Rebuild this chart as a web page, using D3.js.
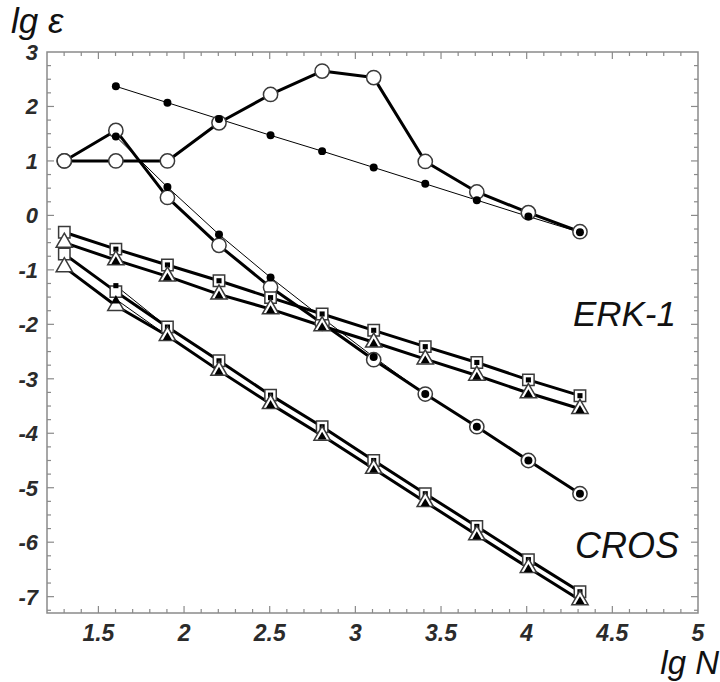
<!DOCTYPE html>
<html>
<head>
<meta charset="utf-8">
<script src="https://cdn.jsdelivr.net/npm/d3@7"></script>
<style>
  body { margin: 0; background: #fff; }
  .tick-label { font-family: "Liberation Sans", Arial, sans-serif; font-weight: bold; font-style: italic; fill: #2b2b2b; }
  .title { font-family: "Liberation Sans", Arial, sans-serif; font-style: italic; fill: #111; }
</style>
</head>
<body>
<div id="chart"></div>
<script>
// lg N values (N = 20, 40, ... 20480)
var lgN = [1.301, 1.602, 1.903, 2.204, 2.505, 2.806, 3.107, 3.408, 3.709, 4.010, 4.311];

/* circle family */
var circOpenA   = [1.0, 1.0, 1.0, 1.70, 2.22, 2.65, 2.53, 0.99, 0.43, 0.05, -0.30];
var circFilledA = [null, 2.37, 2.07, 1.77, 1.47, 1.18, 0.88, 0.58, 0.28, -0.02, -0.31];
var circOpenB   = [1.0, 1.56, 0.33, -0.55, -1.32, -1.98, -2.65, -3.28, -3.88, -4.50, -5.11];
var circFilledB = [null, 1.45, 0.52, -0.35, -1.14, -1.88, -2.60, -3.28, -3.88, -4.50, -5.11];

/* ERK-1 */
var erkSqOpen   = [-0.31, -0.62, -0.91, -1.20, -1.51, -1.81, -2.11, -2.41, -2.70, -3.02, -3.31];
var erkSqFilled = [null, -0.62, -0.91, -1.20, -1.51, -1.81, -2.11, -2.41, -2.70, -3.02, -3.31];
var erkTrOpen   = [-0.50, -0.82, -1.12, -1.45, -1.72, -2.03, -2.33, -2.64, -2.94, -3.26, -3.55];
var erkTrFilled = [null, -0.82, -1.12, -1.45, -1.72, -2.03, -2.33, -2.64, -2.94, -3.26, -3.55];

/* CROS */
var crosSqOpen   = [-0.71, -1.40, -2.05, -2.67, -3.30, -3.88, -4.50, -5.11, -5.71, -6.32, -6.91];
var crosSqFilled = [null, -1.29, -2.05, -2.67, -3.30, -3.88, -4.50, -5.11, -5.71, -6.32, -6.91];
var crosTrOpen   = [-0.95, -1.66, -2.21, -2.85, -3.46, -4.04, -4.65, -5.26, -5.87, -6.47, -7.06];
var crosTrFilled = [null, -1.54, -2.21, -2.85, -3.46, -4.04, -4.65, -5.26, -5.87, -6.47, -7.06];

var xTicks = [1.5, 2, 2.5, 3, 3.5, 4, 4.5, 5];
var yTicks = [3, 2, 1, 0, -1, -2, -3, -4, -5, -6, -7];

var W = 720, H = 682;
var mLeft = 47, mRight = 698, mTop = 52, mBottom = 613;

var x = d3.scaleLinear().domain([1.2, 5]).range([mLeft, mRight]);
var y = d3.scaleLinear().domain([-7.3, 3]).range([mBottom, mTop]);

var svg = d3.select("#chart").append("svg")
  .attr("width", W).attr("height", H);

/* 프레임 */
svg.append("rect")
  .attr("x", mLeft).attr("y", mTop)
  .attr("width", mRight - mLeft).attr("height", mBottom - mTop)
  .attr("fill", "none").attr("stroke", "#8a8a8a").attr("stroke-width", 1.5);

// minor + major ticks on all four sides, pointing inward
var xMinor = d3.range(12, 51).map(function(d){ return d / 10; });
var yMinor = d3.range(-29, 13).map(function(d){ return d / 4; });
var tickG = svg.append("g").attr("stroke", "#8a8a8a").attr("stroke-width", 1.2);

xMinor.forEach(function(v){
  var major = Math.abs(v * 2 - Math.round(v * 2)) < 1e-6;
  var len = major ? 7 : 4;
  var px = x(v);
  if (px <= mLeft + 0.5 || px >= mRight - 0.5) return;
  tickG.append("line").attr("x1", px).attr("x2", px).attr("y1", mBottom).attr("y2", mBottom - len);
  tickG.append("line").attr("x1", px).attr("x2", px).attr("y1", mTop).attr("y2", mTop + len);
});
yMinor.forEach(function(v){
  var major = Math.abs(v - Math.round(v)) < 1e-6;
  var len = major ? 7 : 4;
  var py = y(v);
  if (py <= mTop + 0.5 || py >= mBottom - 0.5) return;
  tickG.append("line").attr("y1", py).attr("y2", py).attr("x1", mLeft).attr("x2", mLeft + len);
  tickG.append("line").attr("y1", py).attr("y2", py).attr("x1", mRight).attr("x2", mRight - len);
});

/* 눈금 라벨 */
svg.selectAll(".xl").data(xTicks).enter().append("text")
  .attr("class", "tick-label")
  .attr("x", function(d){ return x(d); })
  .attr("y", 641)
  .attr("text-anchor", "middle")
  .style("font-size", "23px")
  .text(function(d){ return d; });

svg.selectAll(".yl").data(yTicks).enter().append("text")
  .attr("class", "tick-label")
  .attr("x", 38)
  .attr("y", function(d){ return y(d) + 8; })
  .attr("text-anchor", "end")
  .style("font-size", "22px")
  .text(function(d){ return d; });

svg.append("text").attr("class", "title").attr("x", 11).attr("y", 33)
  .style("font-size", "35px").text("lg ε");
svg.append("text").attr("class", "title").attr("x", 719).attr("y", 674)
  .attr("text-anchor", "end").style("font-size", "33px").text("lg N");
svg.append("text").attr("class", "title").attr("x", 676).attr("y", 326)
  .attr("text-anchor", "end").style("font-size", "35px").text("ERK-1");
svg.append("text").attr("class", "title").attr("x", 679).attr("y", 558)
  .attr("text-anchor", "end").style("font-size", "36px").text("CROS");

/* 선 그리기 */
function pts(vals){
  var out = [];
  vals.forEach(function(v, i){ if (v !== null) out.push({ x: lgN[i], y: v }); });
  return out;
}
var line = d3.line().x(function(d){ return x(d.x); }).y(function(d){ return y(d.y); });

var openSeries   = [circOpenA, circOpenB, erkSqOpen, erkTrOpen, crosSqOpen, crosTrOpen];
var filledSeries = [circFilledA, circFilledB, erkSqFilled, erkTrFilled, crosSqFilled, crosTrFilled];
var shapes = ["circle", "circle", "square", "triangle", "square", "triangle"];

openSeries.forEach(function(s){
  svg.append("path").attr("d", line(pts(s)))
    .attr("fill", "none").attr("stroke", "#000").attr("stroke-width", 3)
    .attr("stroke-linejoin", "round");
});
filledSeries.forEach(function(s){
  svg.append("path").attr("d", line(pts(s)))
    .attr("fill", "none").attr("stroke", "#000").attr("stroke-width", 1);
});

var bigSym = {
  circle: d3.symbol().type(d3.symbolCircle).size(160),
  square: d3.symbol().type(d3.symbolSquare).size(130),
  triangle: d3.symbol().type(d3.symbolTriangle).size(115)
};
var smallSym = {
  circle: d3.symbol().type(d3.symbolCircle).size(50),
  square: d3.symbol().type(d3.symbolSquare).size(26),
  triangle: d3.symbol().type(d3.symbolTriangle).size(36)
};

/* 마커 */
openSeries.forEach(function(s, k){
  svg.selectAll(null).data(pts(s)).enter().append("path")
    .attr("d", bigSym[shapes[k]]())
    .attr("transform", function(d){ return "translate(" + x(d.x) + "," + y(d.y) + ")"; })
    .attr("fill", "#fff").attr("stroke", "#3a3a3a").attr("stroke-width", 1.5);
  svg.selectAll(null).data(pts(filledSeries[k])).enter().append("path")
    .attr("d", smallSym[shapes[k]]())
    .attr("transform", function(d){
      var dy = shapes[k] === "triangle" ? 1.5 : 0;
      return "translate(" + x(d.x) + "," + (y(d.y) + dy) + ")";
    })
    .attr("fill", "#000");
});
</script>
</body>
</html>
